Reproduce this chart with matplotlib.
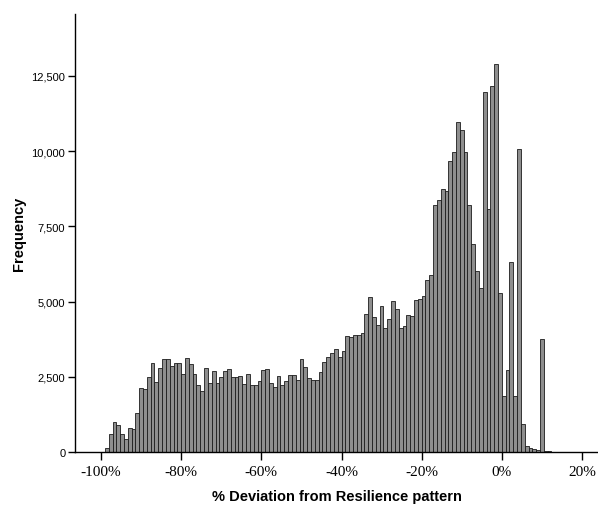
import matplotlib
matplotlib.use("Agg")
import matplotlib.pyplot as plt
from matplotlib.ticker import FuncFormatter, FixedLocator

# Histogram bins: 21 bins per 20 percentage points, starting at -100%
bin_start = -100.0
bin_width = 20.0 / 21.0

freq_m100_m80 = [0, 133, 600, 997, 886, 600, 437, 792, 776, 1313, 2127, 2105,
                 2504, 2952, 2320, 2797, 3080, 3080, 2852, 2964, 2964]
freq_m80_m60 = [2582, 3125, 2925, 2593, 2238, 2028, 2792, 2305, 2692, 2300, 2493,
                2692, 2765, 2504, 2504, 2543, 2265, 2604, 2222, 2243, 2360]
freq_m60_m40 = [2737, 2765, 2305, 2161, 2510, 2227, 2360, 2570, 2548, 2398, 3100,
                2825, 2465, 2377, 2377, 2659, 2997, 3169, 3291, 3430, 3165]
freq_m40_m20 = [3357, 3856, 3823, 3878, 3900, 3945, 4598, 5141, 4476, 4221, 4853,
                4110, 4421, 5008, 4742, 4132, 4177, 4565, 4521, 5041, 5086]
freq_m20_0 = [5186, 5728, 5894, 8210, 8388, 8753, 8665, 9684, 9983, 10969, 10703,
              9983, 8210, 6914, 6027, 5462, 11966, 8077, 12166, 12897, 5285]
freq_0_up = [1845, 2730, 6316, 1861, 10070, 915, 205, 144, 89, 60, 3755, 33, 20]

frequency = (freq_m100_m80 + freq_m80_m60 + freq_m60_m40 + freq_m40_m20
             + freq_m20_0 + freq_0_up)
bin_lefts = [bin_start + i * bin_width for i in range(len(frequency))]

x_ticks = [-100, -80, -60, -40, -20, 0, 20]
y_ticks = [0, 2500, 5000, 7500, 10000, 12500]

W, H = 598, 506
fig = plt.figure(figsize=(W / 100, H / 100), dpi=100)
left_px, right_px, bottom_px, top_px = 75, 598, 453, 15
ax = fig.add_axes([left_px / W, 1 - bottom_px / H,
                   (right_px - left_px) / W, (bottom_px - top_px) / H])

ax.bar(bin_lefts, frequency, width=bin_width, align="edge",
       facecolor="#8e8e8e", edgecolor="#1c1c1c", linewidth=0.6)

ax.set_xlim(-106.5, 24.0)
ax.set_ylim(0, 14560)

for s in ["top", "right"]:
    ax.spines[s].set_visible(False)
for s in ["left", "bottom"]:
    ax.spines[s].set_color("black")
    ax.spines[s].set_linewidth(1.0)

ax.xaxis.set_major_locator(FixedLocator(x_ticks))
ax.yaxis.set_major_locator(FixedLocator(y_ticks))
ax.xaxis.set_major_formatter(FuncFormatter(lambda v, p: f"{int(v)}%"))
ax.yaxis.set_major_formatter(FuncFormatter(lambda v, p: f"{int(v):,}"))

ax.tick_params(axis="x", direction="out", length=6, width=1, pad=3,
               labelsize=11, colors="black")
ax.tick_params(axis="y", direction="out", length=5, width=1, pad=2,
               labelsize=8, colors="black")
for lab in ax.get_xticklabels():
    lab.set_fontfamily("Liberation Serif")
for lab in ax.get_yticklabels():
    lab.set_fontfamily("Liberation Sans")

ax.set_xlabel("% Deviation from Resilience pattern", fontsize=10.5,
              fontweight="bold", family="Liberation Sans", labelpad=8)
ax.set_ylabel("Frequency", fontsize=10.5, fontweight="bold",
              family="Liberation Sans", labelpad=4)

fig.savefig("out.png", dpi=100)
